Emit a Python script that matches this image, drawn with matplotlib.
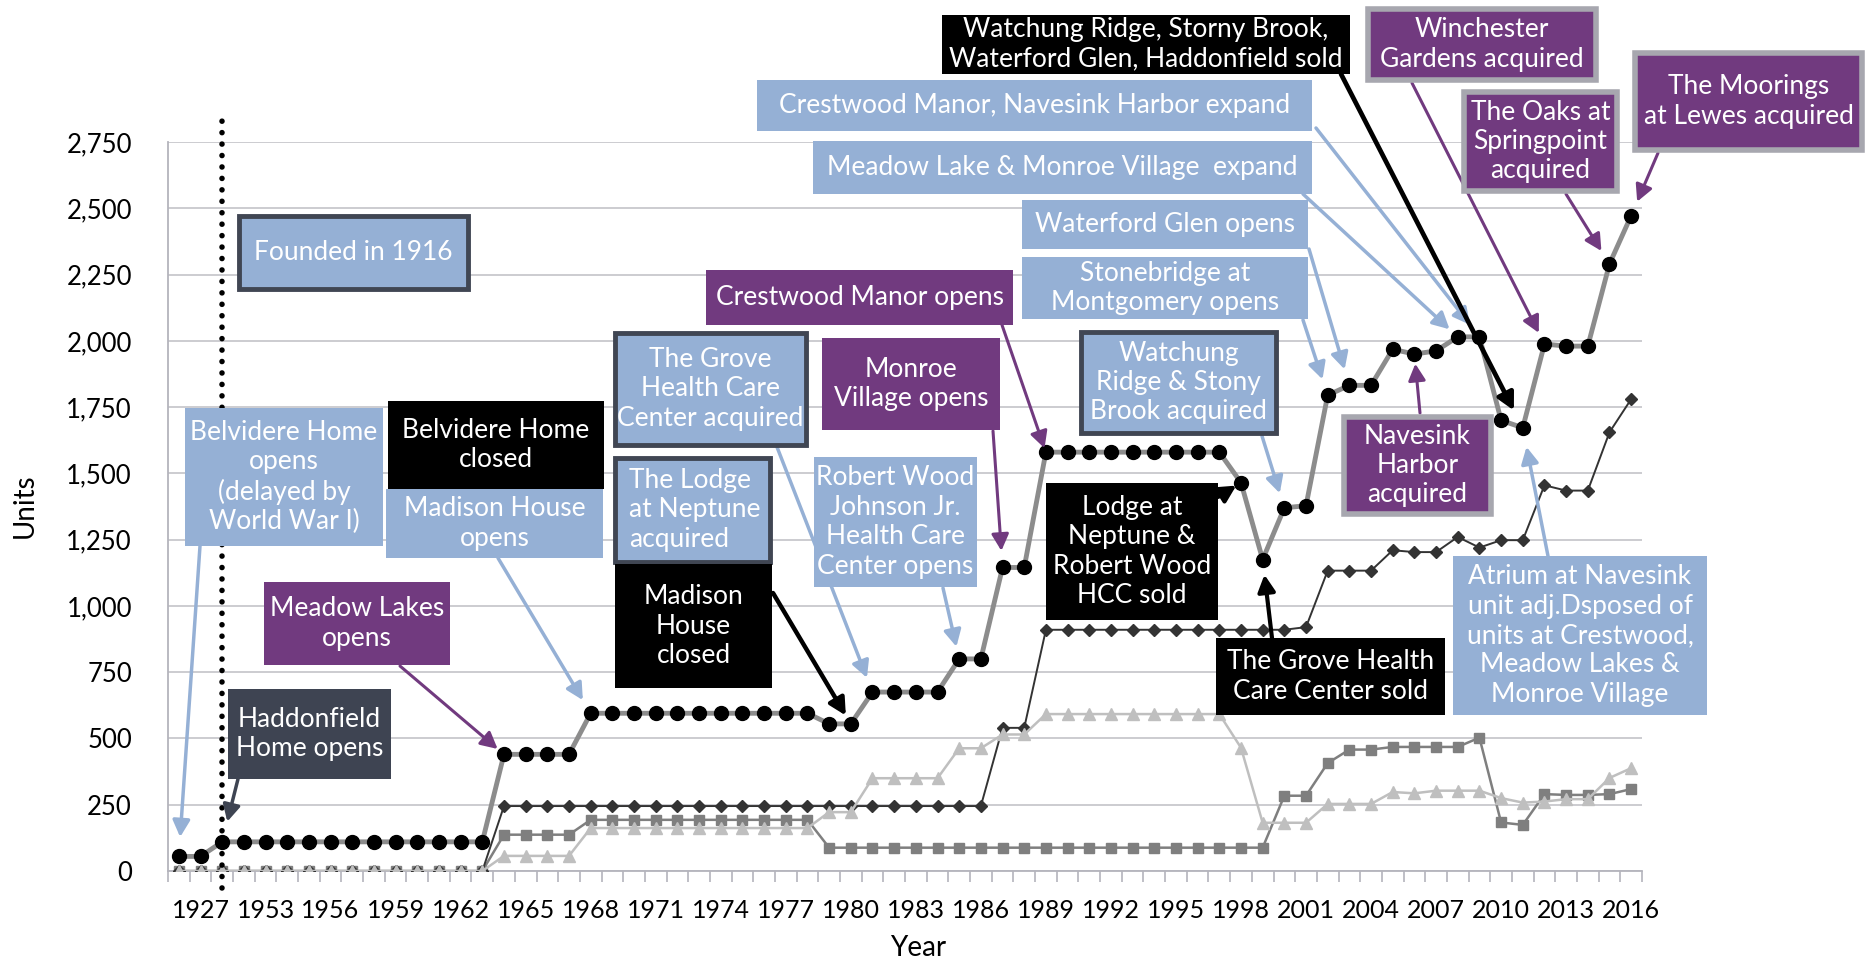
import matplotlib
matplotlib.use('Agg')
import matplotlib.pyplot as plt
from matplotlib.patches import Rectangle
from matplotlib.ticker import FuncFormatter
import numpy as np

plt.rcParams['font.family'] = ['Lato', 'DejaVu Sans']

W, H = 1875, 961

# categories: four early milestones, then every year 1953-2016
years = ['1925', '1927', '1930', '1940'] + [str(y) for y in range(1953, 2017)]

total = ([55, 55] + [110] * 13 + [440] * 4 + [595] * 11 + [555] * 2 + [675] * 4
         + [800] * 2 + [1145] * 2 + [1580] * 9
         + [1465, 1175, 1370, 1378, 1795, 1832, 1832, 1968, 1950, 1962,
            2015, 2015, 1700, 1672, 1988, 1980, 1980, 2290, 2472])
diamonds = ([0] * 15 + [245] * 23 + [540] * 2 + [910] * 12
            + [920, 1133, 1133, 1133, 1210, 1203, 1203, 1260, 1220, 1248,
               1248, 1455, 1435, 1435, 1655, 1780])
squares = ([0] * 15 + [137] * 4 + [193] * 11 + [88] * 21
           + [284, 284, 407, 458, 458, 468, 468, 468, 468, 503, 183, 174,
              290, 287, 287, 290, 309])
triangles = ([0] * 15 + [57] * 4 + [162] * 11 + [222] * 2 + [350] * 4 + [463] * 2
             + [515] * 2 + [592] * 9
             + [465, 182, 182, 182, 253, 253, 253, 298, 293, 303, 303, 303,
                275, 258, 262, 271, 271, 351, 388])

LB = '#95B0D5'
PURPLE = '#713A7F'
SLATE = '#3E4452'
DARK_EDGE = '#404653'
GRAY_EDGE = '#A7A7AF'
FS = 19

fig = plt.figure(figsize=(W / 100, H / 100), dpi=100)
ax = fig.add_axes([168 / W, 1 - 871 / H, (1642 - 168) / W, (871 - 142) / H])

x = np.arange(len(years))
ax.plot(x, squares, color='#7f7f7f', lw=1.8, marker='s', ms=7, zorder=2)
ax.plot(x, diamonds, color='#333333', lw=1.4, marker='D', ms=6, zorder=3)
ax.plot(x, triangles, color='#bfbfbf', lw=1.8, marker='^', ms=8, zorder=4)
ax.plot(x, total, color='#8c8c8c', lw=3.5, marker='o', ms=10,
        mfc='black', mec='black', zorder=5)

# founding marker line
ax.plot([2, 2], [-65, 2860], color='black', lw=4, linestyle=(0, (0.01, 2.05)),
        dash_capstyle='round', clip_on=False, zorder=6)

ax.set_xlim(-0.5, len(years) - 0.5)
ax.set_ylim(0, 2750)
ax.set_yticks(np.arange(0, 2751, 250))
ax.yaxis.set_major_formatter(FuncFormatter(lambda v, p: f'{int(v):,}'))
ax.yaxis.grid(True, color='#c8c8cd', lw=1.3)
ax.set_axisbelow(True)

ax.set_xticks(x[1::3])
ax.set_xticklabels(years[1::3])
ax.set_xticks(np.arange(-0.5, len(years), 1), minor=True)
ax.tick_params(axis='x', which='major', length=0, pad=20, labelsize=18)
ax.tick_params(axis='x', which='minor', length=8, width=1.2, color='#b4b4bc')
ax.tick_params(axis='y', length=0, pad=26, labelsize=18.5)

for s in ['top', 'right']:
    ax.spines[s].set_visible(False)
for s in ['left', 'bottom']:
    ax.spines[s].set_color('#b4b4bc')
    ax.spines[s].set_linewidth(1.3)

fig.text(25 / W, 1 - 506 / H, 'Units', rotation=90, ha='center', va='center', fontsize=20)
fig.text(918 / W, 1 - 948 / H, 'Year', ha='center', va='center', fontsize=20)


def box(x0, y0, x1, y1, text, fc, ec=None, elw=0.0, ha='center', fs=FS):
    inset = elw * 100 / 72 / 2
    r = Rectangle(((x0 + inset) / W, 1 - (y1 - inset) / H),
                  (x1 - x0 - 2 * inset) / W, (y1 - y0 - 2 * inset) / H,
                  transform=fig.transFigure, facecolor=fc,
                  edgecolor=ec if ec else fc, linewidth=elw, zorder=10)
    fig.add_artist(r)
    tx = (x0 + x1) / 2 if ha == 'center' else x0 + 16
    fig.text(tx / W, 1 - (y0 + y1) / 2 / H, text, ha=ha, va='center',
             multialignment=ha, color='white', fontsize=fs, zorder=11, linespacing=1.22)


def arrow(i, sx, sy, color, lw=2.5, shrink=10):
    ax.annotate('', xy=(i, total[i]), xycoords='data', xytext=(sx, H - sy),
                textcoords='figure pixels', annotation_clip=False, zorder=7,
                arrowprops=dict(arrowstyle='-|>,head_length=0.5,head_width=0.26',
                                color=color, lw=lw, shrinkA=0, shrinkB=shrink,
                                mutation_scale=20))


# arrows (drawn in the axes, beneath the boxes)
arrow(0, 200, 546, LB, shrink=14)
arrow(2, 238, 779, SLATE, shrink=15)
arrow(15, 400, 666, PURPLE, lw=2.2, shrink=6)
arrow(19, 498, 558, LB, shrink=11)
arrow(32, 777, 447, LB, shrink=11)
arrow(31, 773, 593, 'black', lw=3.2, shrink=7)
arrow(36, 943, 588, LB, shrink=9)
arrow(38, 993, 431, PURPLE, lw=2.2, shrink=12)
arrow(40, 1002, 325, PURPLE, lw=2.2, shrink=3)
arrow(49, 1218, 497, 'black', lw=3.0, shrink=4)
arrow(50, 1272, 638, 'black', lw=3.0, shrink=11)
arrow(51, 1262, 436, LB, shrink=11)
arrow(54, 1309, 249, LB, shrink=12)
arrow(53, 1303, 320, LB, shrink=12)
arrow(59, 1303, 194, LB, shrink=8)
arrow(60, 1316, 128, LB, shrink=11)
arrow(62, 1341, 74, 'black', lw=3.4, shrink=14)
arrow(63, 1412, 83, PURPLE, lw=2.2, shrink=9)
arrow(66, 1566, 194, PURPLE, lw=2.2, shrink=11)
arrow(67, 1658, 153, PURPLE, lw=2.2, shrink=11)
arrow(57, 1420, 413, PURPLE, lw=2.2, shrink=7)
arrow(62, 1548, 556, LB, shrink=14)

# annotation boxes
box(185, 408, 383, 546, 'Belvidere Home\nopens\n(delayed by\nWorld War I)', LB)
box(237, 214, 470, 291, 'Founded in 1916', LB, DARK_EDGE, 3.5)
box(388, 401, 604, 489, 'Belvidere Home\nclosed', 'black')
box(386, 489, 603, 558, 'Madison House\nopens', LB)
box(264, 582, 450, 665, 'Meadow Lakes\nopens', PURPLE)
box(228, 689, 391, 779, 'Haddonfield\nHome opens', SLATE)
box(613, 331, 808, 447, 'The Grove\nHealth Care\nCenter acquired', LB, DARK_EDGE, 3.5)
box(613, 456, 772, 564, 'The Lodge\nat Neptune\nacquired', LB, DARK_EDGE, 3.5, ha='left')
box(615, 564, 772, 688, 'Madison\nHouse\nclosed', 'black')
box(814, 457, 977, 587, 'Robert Wood\nJohnson Jr.\nHealth Care\nCenter opens', LB)
box(822, 338, 1000, 430, 'Monroe\nVillage opens', PURPLE)
box(706, 270, 1013, 325, 'Crestwood Manor opens', PURPLE)
box(1079, 330, 1278, 435, 'Watchung\nRidge & Stony\nBrook acquired', LB, DARK_EDGE, 3.5)
box(1046, 483, 1218, 620, 'Lodge at\nNeptune &\nRobert Wood\nHCC sold', 'black')
box(1216, 638, 1445, 715, 'The Grove Health\nCare Center sold', 'black')
box(1022, 200, 1308, 249, 'Waterford Glen opens', LB)
box(1022, 257, 1308, 319, 'Stonebridge at\nMontgomery opens', LB)
box(813, 141, 1312, 194, 'Meadow Lake & Monroe Village  expand', LB)
box(757, 80, 1312, 131, 'Crestwood Manor, Navesink Harbor expand', LB)
box(942, 15, 1350, 74, 'Watchung Ridge, Storny Brook,\nWaterford Glen, Haddonfield sold', 'black')
box(1365, 6, 1599, 83, 'Winchester\nGardens acquired', PURPLE, GRAY_EDGE, 4)
box(1461, 89, 1620, 194, 'The Oaks at\nSpringpoint\nacquired', PURPLE, GRAY_EDGE, 4)
box(1632, 50, 1865, 153, 'The Moorings\nat Lewes acquired', PURPLE, GRAY_EDGE, 4)
box(1341, 414, 1494, 517, 'Navesink\nHarbor\nacquired', PURPLE, GRAY_EDGE, 4)
box(1453, 556, 1707, 715, 'Atrium at Navesink\nunit adj.Dsposed of\nunits at Crestwood,\nMeadow Lakes &\nMonroe Village', LB)

fig.savefig('out.png', dpi=100)
